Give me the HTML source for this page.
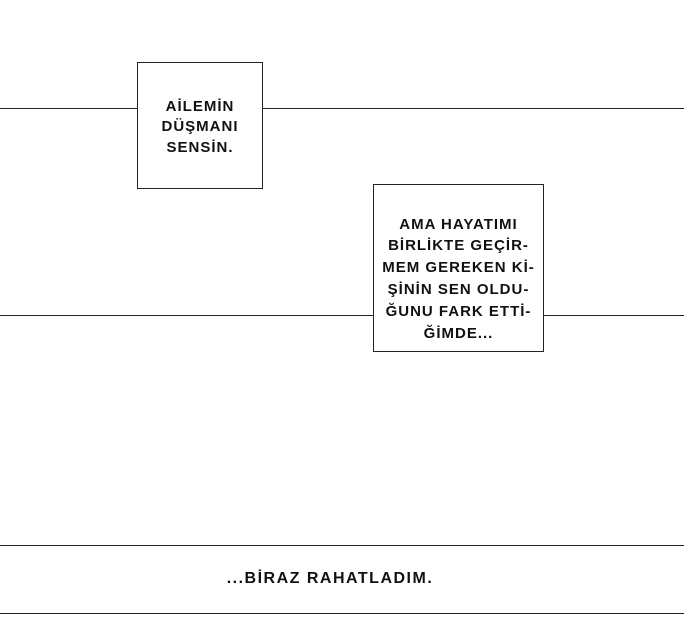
<!DOCTYPE html>
<html><head><meta charset="utf-8"><style>
body{margin:0;width:684px;height:636px;background:#fff;position:relative;overflow:hidden;font-family:"Liberation Sans",sans-serif;}
.l{position:absolute;height:1px;background:#222;}
.b{position:absolute;border:1px solid #222;background:#fff;box-sizing:border-box;display:flex;align-items:center;justify-content:center;text-align:center;font-weight:bold;font-size:15px;line-height:20px;color:#111;letter-spacing:1px;}
</style></head><body>
<div class="l" style="left:0;top:108px;width:684px"></div>
<div class="l" style="left:0;top:315px;width:684px"></div>
<div class="l" style="left:0;top:545px;width:684px"></div>
<div class="l" style="left:0;top:613px;width:684px"></div>
<div class="b" style="left:137px;top:62px;width:126px;height:127px"><div style="margin-top:4px;line-height:20.5px">AİLEMİN<br>DÜŞMANI<br>SENSİN.</div></div>
<div class="b" style="left:373px;top:184px;width:171px;height:168px;line-height:21.8px;"><div style="margin-top:22px;white-space:nowrap">AMA HAYATIMI<br>BİRLİKTE GEÇİR-<br>MEM GEREKEN Kİ-<br>ŞİNİN SEN OLDU-<br>ĞUNU FARK ETTİ-<br>ĞİMDE...</div></div>
<div style="position:absolute;left:0;width:660px;top:570px;text-align:center;font-weight:bold;font-size:16px;color:#111;letter-spacing:1.5px">...BİRAZ RAHATLADIM.</div>
</body></html>
